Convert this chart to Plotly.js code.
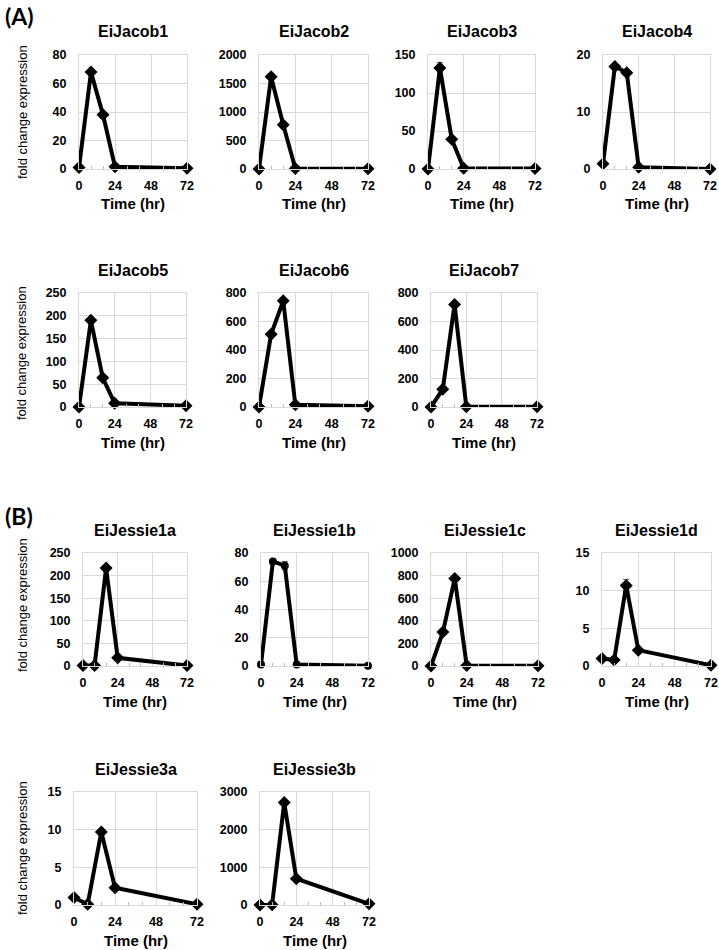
<!DOCTYPE html>
<html><head><meta charset="utf-8">
<script src="https://cdn.plot.ly/plotly-3.0.1.min.js"></script>
<style>html,body{margin:0;padding:0;background:#fff}#chart{width:719px;height:950px}</style>
</head><body><div id="chart"></div>
<script>
// ---- data ----
const timePoints = [0, 8, 16, 24, 72];
const xTicks = [0, 24, 48, 72];
const geneNames = ['EiJacob1','EiJacob2','EiJacob3','EiJacob4','EiJacob5','EiJacob6','EiJacob7',
                   'EiJessie1a','EiJessie1b','EiJessie1c','EiJessie1d','EiJessie3a','EiJessie3b'];
const EiJacob1 = [1, 68, 38, 1.5, 0.5];
const EiJacob2 = [0, 1620, 775, 10, 5];
const EiJacob3 = [0, 133, 39, 1, 0.5];
const EiJacob4 = [0.9, 18, 16.9, 0.3, 0];
const EiJacob5 = [0, 190, 64, 8, 3];
const EiJacob6 = [0, 510, 745, 15, 5];
const EiJacob7 = [0, 125, 720, 2, 1];
const EiJessie1a = [1, 1, 217, 18, 1];
const EiJessie1b = [1, 74, 71, 1, 0.2];
const EiJessie1c = [0, 300, 775, 5, 2];
const EiJessie1d = [1, 0.8, 10.7, 2.1, 0.1];
const EiJessie3a = [1, 0.1, 9.7, 2.3, 0.1];
const EiJessie3b = [0, 5, 2720, 700, 30];
const errJacob3 = [0, 7, 0, 0, 0];
const errJessie1a = [0, 0, 5, 0, 0];
const errJessie1b = [0, 0, 3, 0, 0];
const errJessie1d = [0, 0, 0.8, 0, 0];
const yMax = [80, 2000, 150, 20, 250, 800, 800, 250, 80, 1000, 15, 15, 3000];
const yStep = [20, 500, 50, 10, 50, 200, 200, 50, 20, 200, 5, 5, 1000];
const panelLabels = ['(A)', '(B)'];
const yTitle = 'fold change expression';
const xTitle = 'Time (hr)';

const series = [EiJacob1, EiJacob2, EiJacob3, EiJacob4, EiJacob5, EiJacob6, EiJacob7,
                EiJessie1a, EiJessie1b, EiJessie1c, EiJessie1d, EiJessie3a, EiJessie3b];
const errs = [null, null, errJacob3, null, null, null, null, errJessie1a, errJessie1b, null, errJessie1d, null, null];

// ---- style / geometry (pixels) ----
const symbols = ['diamond','diamond','diamond','diamond','diamond','diamond','diamond',
                 'diamond','circle','diamond','diamond','diamond','diamond'];
const W = 719, H = 950;
const boxes = [
  [79,187,55,169],[259,368,55,169],[428,535,55,169],[603,710,55,169],
  [79,186,293,407],[259,368,293,407],[431,537,293,407],
  [83,187,553,666],[261,368,553,666],[431,538,553,666],[602,711,553,666],
  [74,197,792,905],[260,369,792,905]
];
const px = v => v / W, py = v => 1 - v / H;
const FONT = 'Liberation Sans, Arial, sans-serif';

const traces = [], annotations = [];
const layout = {width: W, height: H, margin: {l:0, r:0, t:0, b:0}, showlegend: false,
  paper_bgcolor: '#fff', plot_bgcolor: '#fff', font: {family: FONT, color: '#000'}};

series.forEach((ys, i) => {
  const n = i + 1, sfx = (n === 1 ? '' : String(n));
  const [x0, x1, y0, y1] = boxes[i];
  const t = {x: timePoints, y: ys, type: 'scatter', mode: 'lines+markers',
    xaxis: 'x' + sfx, yaxis: 'y' + sfx,
    line: {color: '#000', width: 4}, marker: {symbol: symbols[i], size: symbols[i] === 'circle' ? 8 : 10, color: '#000'},
    cliponaxis: false};
  if (errs[i]) t.error_y = {type: 'data', array: errs[i], visible: true, color: '#555', thickness: 1, width: 3};
  traces.push(t);
  layout['xaxis' + sfx] = {domain: [px(x0), px(x1)], anchor: 'y' + sfx, range: [0, 72],
    tickvals: xTicks, showgrid: true, gridcolor: '#d9d9d9', gridwidth: 1, zeroline: false,
    showline: true, linecolor: '#d9d9d9', mirror: true, ticks: '', ticklabelstandoff: 5,
    minor: {tickvals: [8, 16, 32, 40, 56, 64], ticks: 'inside', ticklen: 3, tickcolor: '#bbb', showgrid: false},
    tickfont: {family: FONT, size: 12.5, color: '#000', weight: 'bold'}, fixedrange: true};
  layout['yaxis' + sfx] = {domain: [py(y1), py(y0)], anchor: 'x' + sfx, range: [0, yMax[i]],
    dtick: yStep[i], tick0: 0, showgrid: true, gridcolor: '#d9d9d9', gridwidth: 1, zeroline: false,
    showline: true, linecolor: '#d9d9d9', mirror: true, ticks: '', ticklabelstandoff: 9,
    tickfont: {family: FONT, size: 12.5, color: '#000', weight: 'bold'}, fixedrange: true};
  const cx = (x0 + x1) / 2;
  annotations.push({xref: 'paper', yref: 'paper', x: px(cx), y: py(y0 - 23), text: '<b>' + geneNames[i] + '</b>',
    showarrow: false, font: {family: FONT, size: 16, color: '#000'}, xanchor: 'center', yanchor: 'middle'});
  annotations.push({xref: 'paper', yref: 'paper', x: px(cx), y: py(y1 + 35), text: '<b>' + xTitle + '</b>',
    showarrow: false, font: {family: FONT, size: 15, color: '#000'}, xanchor: 'center', yanchor: 'middle'});
});
// row y-axis titles
[112, 353, 605, 848].forEach(yc => {
  annotations.push({xref: 'paper', yref: 'paper', x: px(22), y: py(yc), text: yTitle, textangle: -90,
    showarrow: false, font: {family: FONT, size: 13, color: '#000'}, xanchor: 'center', yanchor: 'middle'});
});
annotations.push({xref: 'paper', yref: 'paper', x: px(3), y: py(16), text: '<b>' + panelLabels[0] + '</b>',
  showarrow: false, font: {family: 'Lato, Open Sans, sans-serif', size: 23, color: '#000'}, xanchor: 'left', yanchor: 'middle'});
annotations.push({xref: 'paper', yref: 'paper', x: px(3), y: py(516), text: '<b>' + panelLabels[1] + '</b>',
  showarrow: false, font: {family: 'Lato, Open Sans, sans-serif', size: 23, color: '#000'}, xanchor: 'left', yanchor: 'middle'});
layout.annotations = annotations;

Plotly.newPlot('chart', traces, layout, {staticPlot: true, displayModeBar: false});
</script></body></html>
